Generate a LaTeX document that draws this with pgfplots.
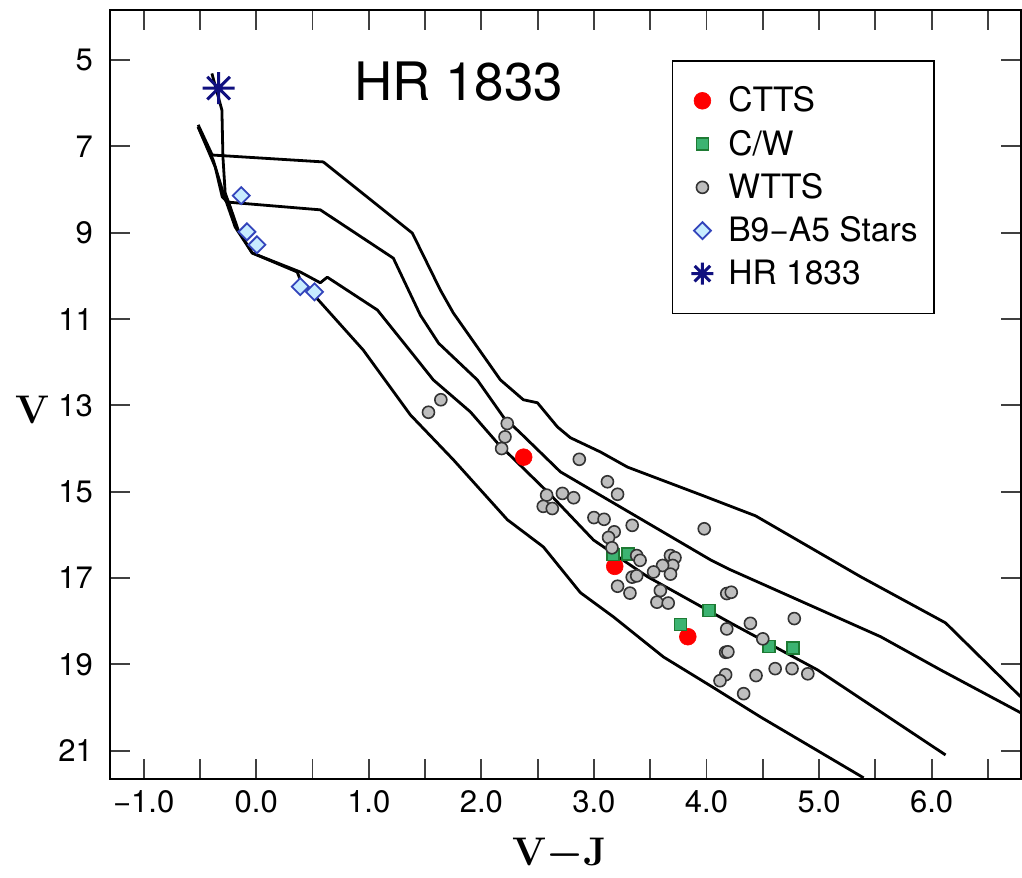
\documentclass[border=0pt]{standalone}
\usepackage{fontspec}
\usepackage{pgfplots}
\pgfplotsset{compat=1.18}
\newfontfamily\helv{TeX Gyre Heros}
\definecolor{cwgreen}{HTML}{3CB371}
\definecolor{cwdark}{HTML}{1E7B34}
\definecolor{wttsgray}{HTML}{BEBEBE}
\definecolor{bfill}{HTML}{C8ECFF}
\definecolor{bdraw}{HTML}{3344BB}
\definecolor{navyc}{HTML}{10107F}
\pgfdeclareplotmark{ast8}{%
  \pgfpathmoveto{\pgfqpoint{-\pgfplotmarksize}{0pt}}\pgfpathlineto{\pgfqpoint{\pgfplotmarksize}{0pt}}%
  \pgfpathmoveto{\pgfqpoint{0pt}{-\pgfplotmarksize}}\pgfpathlineto{\pgfqpoint{0pt}{\pgfplotmarksize}}%
  \pgfpathmoveto{\pgfqpoint{-0.707\pgfplotmarksize}{-0.707\pgfplotmarksize}}\pgfpathlineto{\pgfqpoint{0.707\pgfplotmarksize}{0.707\pgfplotmarksize}}%
  \pgfpathmoveto{\pgfqpoint{-0.707\pgfplotmarksize}{0.707\pgfplotmarksize}}\pgfpathlineto{\pgfqpoint{0.707\pgfplotmarksize}{-0.707\pgfplotmarksize}}%
  \pgfusepathqstroke}
\begin{document}
\begin{tikzpicture}
\begin{axis}[
  scale only axis, width=455.5pt, height=384.5pt,
  xmin=-1.3, xmax=6.79, ymin=3.84, ymax=21.65, y dir=reverse,
  clip=false,
  xtick={-1,0,1,2,3,4,5,6},
  xticklabels={−1.0,0.0,1.0,2.0,3.0,4.0,5.0,6.0},
  minor xtick={-0.5,0.5,1.5,2.5,3.5,4.5,5.5,6.5},
  ytick={5,7,9,11,13,15,17,19,21},
  yticklabels={5,7,9,11,13,15,17,19,21},
  tick align=inside,
  major tick length=10pt, minor tick length=10pt,
  tick style={black!75, line width=0.9pt},
  axis line style={line width=1pt},
  tick label style={font=\helv\fontsize{15.5}{18}\selectfont},
  xticklabel style={yshift=-2.5pt},
  yticklabel style={xshift=-5pt},
  xlabel={\textbf{V}{\boldmath$-$}\textbf{J}},
  ylabel={\textbf{V}},
  label style={font=\fontsize{20}{24}\selectfont},
  xlabel style={at={(axis description cs:0.494,-0.099)}, anchor=center},
  ylabel style={rotate=-90, at={(axis description cs:-0.0845,0.48)}, anchor=center},
  legend style={at={(axis description cs:0.9056,0.935)}, anchor=north east,
    draw=black, line width=0.8pt, font=\helv\fontsize{16.8}{19}\selectfont,
    inner xsep=6pt, inner ysep=11pt, row sep=3.6pt, column sep=2pt, cells={anchor=west}},
]
% isochrones
\addplot[black, line width=1.4pt, line join=round, forget plot] table {
-0.516 6.50
-0.391 7.20
0.596 7.36
1.387 9.01
1.636 10.33
1.751 10.86
2.169 12.41
2.373 12.87
2.498 12.94
2.676 13.50
2.791 13.75
3.058 14.08
3.298 14.43
3.947 15.07
4.436 15.56
5.369 16.97
6.124 18.04
6.790 19.75
};
\addplot[black, line width=1.4pt, line join=round, forget plot] table {
-0.516 6.55
-0.364 7.48
-0.302 8.17
-0.258 8.29
0.569 8.47
1.218 9.59
1.458 10.91
1.620 11.56
1.964 12.41
2.196 13.27
2.347 13.64
2.702 14.54
3.369 15.56
4.036 16.58
4.213 16.81
5.547 18.36
6.080 19.13
6.790 20.12
};
\addplot[black, line width=1.4pt, line join=round, forget plot] table {
-0.516 6.55
-0.382 7.32
-0.293 8.08
-0.187 8.87
-0.036 9.47
0.391 9.91
0.569 10.16
0.631 10.03
1.076 10.79
1.396 11.83
1.573 12.41
1.902 13.15
2.142 13.87
2.613 15.07
2.996 16.12
3.476 16.97
4.213 18.04
4.987 19.13
6.124 21.10
};
\addplot[black, line width=1.4pt, line join=round, forget plot] table {
-0.394 5.31
-0.305 6.16
-0.296 7.24
-0.276 8.08
-0.231 8.40
-0.160 8.94
-0.036 9.47
0.364 9.91
0.391 10.09
0.951 11.72
1.369 13.22
1.751 14.26
2.231 15.65
2.551 16.28
2.880 17.34
3.173 17.90
3.618 18.83
4.062 19.54
4.480 20.22
5.396 21.63
};
% CTTS
\addplot[only marks, mark=*, mark size=4.2pt, color=red, mark options={fill=red, draw=red, line width=0.3pt}] table {
2.376 14.20
3.185 16.73
3.834 18.36
};
\addlegendentry{CTTS}
% C/W
\addplot[only marks, mark=square*, mark size=3pt, color=cwgreen, mark options={fill=cwgreen, draw=cwdark, line width=0.8pt}] table {
3.167 16.46
3.300 16.44
4.020 17.75
3.770 18.08
4.554 18.59
4.767 18.62
};
\addlegendentry{C/W}
% WTTS
\addplot[only marks, mark=*, mark size=3pt, color=wttsgray, mark options={fill=wttsgray, draw=black!80, line width=0.8pt}] table {
1.53 13.16
1.64 12.87
2.23 13.42
2.21 13.73
2.18 14.00
2.87 14.25
2.58 15.08
2.55 15.34
2.63 15.39
2.72 15.04
2.82 15.14
3.12 14.77
3.21 15.06
3.00 15.60
3.09 15.64
3.34 15.78
3.98 15.86
3.18 15.93
3.13 16.06
3.16 16.30
3.38 16.48
3.41 16.59
3.68 16.48
3.72 16.53
3.70 16.71
3.61 16.71
3.53 16.86
3.68 16.91
3.34 16.98
3.38 16.95
3.21 17.19
3.32 17.35
3.59 17.29
3.56 17.56
3.66 17.58
4.18 17.36
4.22 17.33
4.39 18.05
4.18 18.18
4.78 17.94
4.50 18.41
4.17 18.72
4.19 18.71
4.17 19.24
4.12 19.38
4.44 19.26
4.61 19.10
4.76 19.10
4.90 19.22
4.33 19.68
};
\addlegendentry{WTTS}
% B9-A5
\addplot[only marks, mark=square*, mark size=3pt, color=bdraw, mark options={fill=bfill, draw=bdraw, line width=0.9pt, rotate=45}] table {
-0.133 8.14
-0.083 8.98
0.006 9.28
0.391 10.25
0.518 10.37
};
\addlegendentry{B9−A5 Stars}
% HR 1833
\addplot[only marks, mark=ast8, mark size=8pt, color=navyc, mark options={draw=navyc, line width=1.5pt},
  legend image code/.code={\path (0cm,0cm) (0.6cm,0cm); \draw[navyc, line width=1.1pt] plot[mark=ast8, mark size=5.5pt] coordinates {(0.3cm,0cm)};}] table {
-0.335 5.65
};
\addlegendentry{HR 1833}
\node[font=\helv\fontsize{26.5}{30}\selectfont] at (axis cs:1.80,5.51) {HR 1833};
\path (axis description cs:-0.1207,-0.1261) rectangle (axis description cs:1.0016,1.013);
\end{axis}
\end{tikzpicture}
\end{document}
